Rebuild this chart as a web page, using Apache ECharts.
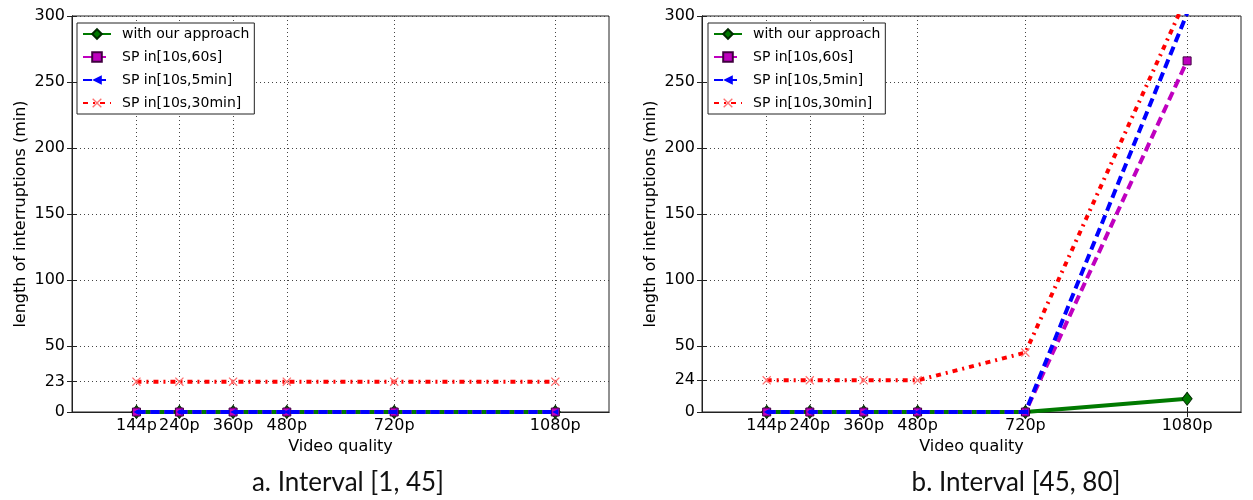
<!DOCTYPE html>
<html>
<head>
<meta charset="utf-8">
<script src="https://cdn.jsdelivr.net/npm/echarts@6/dist/echarts.min.js"></script>
<style>
  html, body { margin: 0; padding: 0; background: #fff; }
  #chart { width: 1253px; height: 500px; }
</style>
</head>
<body>
<div id="chart"></div>
<script>
// x positions (vertical resolution) and their labels
const qualityValues = [144, 240, 360, 480, 720, 1080]
const qualityLabels = ['144p', '240p', '360p', '480p', '720p', '1080p']

const seriesNames = ['with our approach', 'SP in[10s,60s]', 'SP in[10s,5min]', 'SP in[10s,30min]']

// panel a: Interval [1, 45]
const leftOurs = [0, 0, 0, 0, 0, 0]
const left60s = [0, 0, 0, 0, 0, 0]
const left5min = [0, 0, 0, 0, 0, 0]
const left30min = [23, 23, 23, 23, 23, 23]
const leftYTicks = [0, 23, 50, 100, 150, 200, 250, 300]

// panel b: Interval [45, 80]
const rightOurs = [0, 0, 0, 0, 0, 10]
const right60s = [0, 0, 0, 0, 0, 266]
const right5min = [0, 0, 0, 0, 0, 302]
const right30min = [24, 24, 24, 24, 45, 315]
const rightYTicks = [0, 24, 50, 100, 150, 200, 250, 300]

const captions = ['a. Interval [1, 45]', 'b. Interval [45, 80]']

const FONT = 'DejaVu Sans'
const xSymbol = 'path://M0,1L1,0L5,4L9,0L10,1L6,5L10,9L9,10L5,6L1,10L0,9L4,5Z'

const zip = (xs, ys) => xs.map((x, i) => [x, ys[i]])

function styles() {
  return [
    {
      symbol: 'diamond', symbolSize: [10, 13],
      itemStyle: { color: '#007a00', borderColor: '#002a00', borderWidth: 1 },
      lineStyle: { color: '#007a00', width: 4 }
    },
    {
      symbol: 'rect', symbolSize: 8,
      itemStyle: { color: '#bf00bf', borderColor: '#400040', borderWidth: 1 },
      lineStyle: { color: '#bf00bf', width: 4, type: [9, 5] }
    },
    {
      symbol: 'triangle', symbolSize: 6, symbolRotate: 90,
      itemStyle: { color: '#0000ff' },
      lineStyle: { color: '#0000ff', width: 4, type: [9, 5] }
    },
    {
      symbol: xSymbol, symbolSize: 9,
      itemStyle: { color: '#ff7070' },
      lineStyle: { color: '#ff0000', width: 4, type: [5, 5, 2, 5] }
    }
  ]
}

function buildSeries(panel, data) {
  const st = styles()
  return data.map((d, i) => Object.assign({
    type: 'line',
    name: seriesNames[i],
    xAxisIndex: panel,
    yAxisIndex: panel,
    data: zip(qualityValues, d),
    showSymbol: true,
    clip: true,
    z: 2 + i
  }, st[i]))
}

function mainX(panel) {
  return {
    type: 'value', gridIndex: panel, min: 0, max: 1200,
    name: 'Video quality', nameLocation: 'middle', nameGap: 25,
    nameTextStyle: { fontFamily: FONT, fontSize: 16, color: '#000' },
    axisLine: { show: true, lineStyle: { color: '#222', width: 1 } },
    axisTick: { show: true, inside: true, length: 5, customValues: qualityValues, lineStyle: { color: '#222' } },
    axisLabel: {
      customValues: qualityValues, margin: 6,
      fontFamily: FONT, fontSize: 16, color: '#000',
      formatter: v => qualityLabels[qualityValues.indexOf(v)]
    },
    splitLine: { show: true, lineStyle: { color: '#444', type: [1, 3], width: 1 } }
  }
}

function topX(panel) {
  return {
    type: 'value', gridIndex: panel, min: 0, max: 1200, position: 'top',
    axisLine: { show: true, lineStyle: { color: '#222', width: 1 } },
    axisTick: { show: true, inside: true, length: 5, customValues: qualityValues, lineStyle: { color: '#222' } },
    axisLabel: { show: false },
    splitLine: { show: false }
  }
}

function mainY(panel, ticks) {
  return {
    type: 'value', gridIndex: panel, min: 0, max: 300,
    name: 'length of interruptions (min)', nameLocation: 'middle', nameGap: 43, nameRotate: 90,
    nameTextStyle: { fontFamily: FONT, fontSize: 16, color: '#000' },
    axisLine: { show: true, lineStyle: { color: '#222', width: 1 } },
    axisTick: { show: true, inside: true, length: 5, customValues: ticks, lineStyle: { color: '#222' } },
    axisLabel: { customValues: ticks, margin: 7, fontFamily: FONT, fontSize: 16, color: '#000' },
    splitLine: { show: true, lineStyle: { color: '#444', type: [1, 3], width: 1 } }
  }
}

function rightY(panel, ticks) {
  return {
    type: 'value', gridIndex: panel, min: 0, max: 300, position: 'right',
    axisLine: { show: true, lineStyle: { color: '#222', width: 1 } },
    axisTick: { show: true, inside: true, length: 5, customValues: ticks, lineStyle: { color: '#222' } },
    axisLabel: { show: false },
    splitLine: { show: false }
  }
}

function legendAt(left) {
  return {
    orient: 'vertical', left: left, top: 23,
    data: seriesNames,
    backgroundColor: '#fff', borderColor: '#222', borderWidth: 1, borderRadius: 0,
    padding: [4, 5, 4, 5],
    itemWidth: 28, itemHeight: 12, itemGap: 9,
    selectedMode: false,
    textStyle: { fontFamily: FONT, fontSize: 14, color: '#000', padding: [0, 0, 0, 6] }
  }
}

const chart = echarts.init(document.getElementById('chart'), null, { renderer: 'canvas' })

const option = {
  animation: false,
  backgroundColor: '#fff',
  title: [
    { text: captions[0], left: 343, top: 465, textAlign: 'center',
      textStyle: { fontFamily: 'Lato', fontSize: 26, fontWeight: 'normal', color: '#111' } },
    { text: captions[1], left: 1011, top: 465, textAlign: 'center',
      textStyle: { fontFamily: 'Lato', fontSize: 26, fontWeight: 'normal', color: '#111' } }
  ],
  legend: [legendAt(77), legendAt(708)],
  grid: [
    { left: 72, top: 16, width: 537, height: 396, show: true, borderColor: '#222', borderWidth: 1, backgroundColor: 'transparent' },
    { left: 702, top: 16, width: 539, height: 396, show: true, borderColor: '#222', borderWidth: 1, backgroundColor: 'transparent' }
  ],
  xAxis: [mainX(0), mainX(1), topX(0), topX(1)],
  yAxis: [mainY(0, leftYTicks), mainY(1, rightYTicks), rightY(0, leftYTicks), rightY(1, rightYTicks)],
  series: [
    ...buildSeries(0, [leftOurs, left60s, left5min, left30min]),
    ...buildSeries(1, [rightOurs, right60s, right5min, right30min])
  ]
}

chart.setOption(option)
</script>
</body>
</html>
